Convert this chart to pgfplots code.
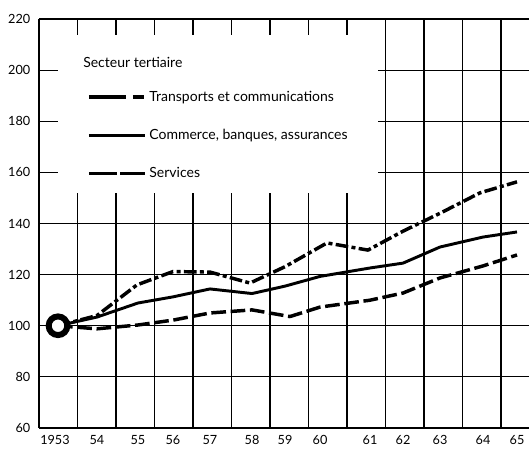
\documentclass[border=0pt]{standalone}
\usepackage{fontspec}
\setmainfont{Lato}
\usepackage{pgfplots}
\pgfplotsset{compat=1.18}
\begin{document}
\begin{tikzpicture}
\begin{axis}[
  scale only axis,
  x=0.75pt, y=1.917pt,
  xmin=39, xmax=529, ymin=60, ymax=220,
  at={(29.25pt,15.75pt)}, anchor=south west,
  axis lines*=left,
  axis line style={line width=1.5pt},
  xtick={77.5,116,...,501},
  xticklabels={},
  xmajorgrids,
  extra x ticks={55,97,138,173,210,252,285,320,370,403,440,483,517},
  extra x tick labels={1953,54,55,56,57,58,59,60,61,62,63,64,65},
  extra x tick style={grid=none},
  ytick={60,80,...,200},
  extra y ticks={220},
  extra y tick style={grid style={black, line width=1.4pt}},
  ymajorgrids,
  grid style={black, line width=0.9pt},
  major tick length=0pt,
  tick label style={font=\fontsize{9.5}{10}\selectfont},
  /pgf/number format/assume math mode=true,
  yticklabel style={xshift=-3pt},
  xticklabel style={yshift=-2pt},
  clip=false,
  legend style={at={(axis cs:87,193)}, anchor=north west, draw=none, fill=none,
    inner sep=0pt, row sep=15.5pt, font=\fontsize{10.5}{12}\selectfont},
  legend cell align=left,
]
\fill[white] (axis cs:58,151.9) rectangle (axis cs:378,213.7);
\node[anchor=west, font=\fontsize{10.5}{12}\selectfont, inner sep=0pt] at (axis cs:83,203.2) {Secteur tertiaire};

\addplot[black, line width=2.6pt, line join=round, dash pattern=on 9.5pt off 2.5pt on 3pt off 2.5pt,
  legend image code/.code={\draw[black, line width=2.6pt, dash pattern=on 28pt off 5pt on 8pt] (0pt,0pt) -- (42pt,0pt);}]
coordinates {(58,100) (97,104) (137,116) (173,121.2) (210,121) (250,116.7) (285,123.1) (327,132.4) (368,129.6) (403,137) (440,144) (480,152) (517,156.3)};
\addlegendentry{Transports et communications}
\addplot[black, line width=2.2pt, line join=round,
  legend image code/.code={\draw[black, line width=2.6pt] (0pt,0pt) -- (42pt,0pt);}]
coordinates {(58,100) (97,103.4) (138,108.9) (173,111.3) (210,114.4) (252,112.6) (285,115.5) (320,119.3) (370,122.6) (403,124.5) (440,130.8) (483,134.7) (517,136.7)};
\addlegendentry{Commerce, banques, assurances}
\addplot[black, line width=2.6pt, line join=round, dash pattern=on 11pt off 3.5pt,
  legend image code/.code={\draw[black, line width=2.6pt, dash pattern=on 21pt off 2.5pt on 18.5pt] (0pt,0pt) -- (42pt,0pt);}]
coordinates {(58,100) (97,98.8) (138,100.3) (173,102.2) (210,105) (252,106.2) (290,103.6) (320,107.3) (370,110) (403,112.8) (440,118.7) (483,123.4) (517,127.7)};
\addlegendentry{Services}

\addplot[black, only marks, mark=*, mark size=7pt, mark options={fill=white, line width=4.5pt}, forget plot]
coordinates {(58,100)};
\end{axis}
\pgfresetboundingbox
\path (0,0) rectangle (396.75pt,336.75pt);
\end{tikzpicture}
\end{document}
